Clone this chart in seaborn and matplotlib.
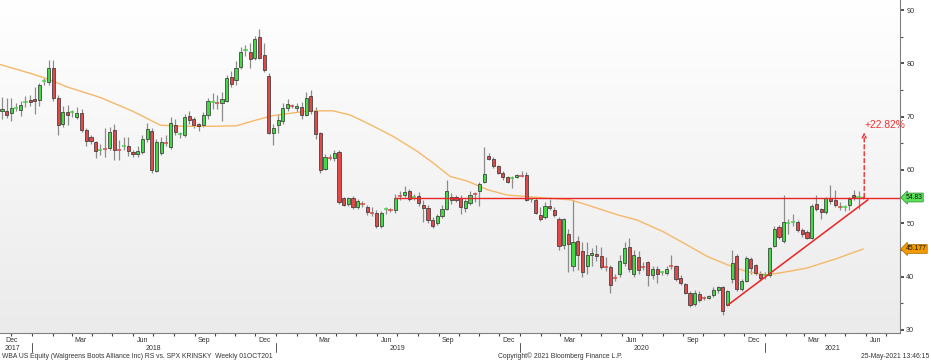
import numpy as np
import pandas as pd
import matplotlib
matplotlib.use("Agg")
import matplotlib.pyplot as plt
import matplotlib.dates as mdates
import matplotlib.transforms as mtransforms
from matplotlib.colors import LinearSegmentedColormap
import seaborn as sns

sns.set_theme(style="white")
plt.rcParams['font.family'] = ['Liberation Sans', 'DejaVu Sans']

# ---------------- data ----------------
first_week = "2017-11-17"   # weekly bars (week ending Friday)

opens = [71.0, 71.0, 70.7, 71.5, 71.3, 72.5, 73.1, 73.4, 73.2, 76.4,
         76.6, 79.1, 73.5, 68.7, 70.9, 70.6, 70.0, 70.7, 67.5, 66.1,
         65.2, 63.6, 64.1, 64.2, 67.5, 64.1, 64.3, 64.5, 63.4, 63.0,
         63.4, 65.8, 67.4, 59.8, 63.2, 65.3, 64.4, 68.5, 66.5, 66.6,
         70.2, 69.6, 68.6, 68.5, 70.3, 72.6, 72.8, 72.5, 73.0, 77.5,
         76.8, 79.4, 82.3, 82.2, 81.0, 85.0, 81.5, 77.7, 66.9, 68.5,
         69.1, 71.6, 72.2, 71.6, 71.9, 70.4, 73.8, 71.0, 66.9, 60.2,
         62.6, 62.3, 63.4, 54.7, 53.6, 54.7, 53.0, 53.7, 53.0, 52.1,
         51.9, 49.5, 52.4, 52.6, 52.4, 55.4, 55.3, 56.1, 54.7, 55.2,
         53.5, 52.8, 50.6, 50.0, 51.3, 52.7, 55.0, 54.9, 54.7, 52.8,
         53.8, 55.6, 56.0, 57.8, 62.7, 62.1, 60.7, 59.4, 58.6, 58.2,
         58.6, 59.1, 59.0, 54.3, 54.4, 51.6, 51.1, 53.3, 52.5, 50.8,
         46.0, 48.0, 41.9, 46.6, 44.7, 41.9, 44.0, 44.3, 43.9, 41.9,
         41.8, 39.8, 40.5, 42.6, 45.5, 40.5, 43.6, 42.0, 42.7, 40.2,
         41.4, 40.7, 40.6, 42.0, 41.9, 39.7, 38.6, 36.9, 34.8, 36.8,
         36.0, 35.9, 36.6, 37.5, 38.0, 34.7, 39.5, 43.9, 37.6, 39.1,
         43.3, 42.1, 40.5, 40.0, 40.2, 45.8, 49.3, 46.6, 50.0, 50.0,
         50.3, 48.8, 48.4, 47.2, 53.6, 52.6, 52.2, 54.8, 54.4, 53.4,
         52.9, 53.4, 55.3, 54.9, 55.0]

highs = [73.7, 73.5, 73.5, 72.5, 73.0, 73.9, 74.0, 75.5, 76.4, 77.2,
         80.7, 80.6, 74.0, 72.0, 72.2, 71.3, 71.8, 71.5, 67.8, 66.5,
         65.5, 64.8, 67.9, 68.1, 68.6, 65.6, 66.2, 66.1, 63.8, 64.5,
         66.6, 68.9, 67.8, 65.8, 66.2, 66.5, 69.9, 69.5, 67.2, 70.5,
         71.0, 70.0, 68.9, 70.9, 73.5, 74.4, 74.0, 74.7, 77.8, 78.5,
         80.4, 83.0, 83.4, 83.8, 85.2, 86.5, 83.9, 78.2, 68.6, 70.5,
         72.6, 73.3, 72.4, 72.6, 72.7, 74.6, 75.1, 71.8, 67.2, 63.0,
         63.0, 63.8, 63.8, 55.0, 55.0, 55.2, 54.6, 54.1, 53.4, 53.1,
         52.5, 52.3, 53.1, 52.9, 55.5, 56.0, 57.0, 56.5, 55.4, 55.8,
         54.3, 53.5, 51.2, 51.8, 53.5, 58.2, 55.6, 55.3, 55.3, 54.5,
         56.0, 55.9, 57.7, 64.4, 63.2, 62.4, 61.0, 59.8, 58.9, 58.8,
         59.3, 59.8, 59.7, 54.9, 54.7, 53.0, 54.0, 54.5, 53.0, 51.1,
         51.0, 49.0, 54.4, 47.6, 46.5, 46.5, 45.3, 46.0, 45.6, 43.7,
         42.1, 40.5, 44.0, 46.5, 47.2, 45.0, 44.8, 42.8, 43.0, 41.9,
         41.9, 41.1, 42.0, 44.0, 42.2, 40.2, 38.8, 37.2, 37.5, 37.3,
         36.3, 36.6, 38.0, 38.2, 38.3, 37.5, 44.9, 44.2, 39.6, 43.9,
         43.6, 42.4, 41.0, 40.9, 45.6, 49.5, 49.7, 55.3, 50.8, 51.8,
         50.6, 49.1, 48.7, 53.6, 55.3, 52.9, 55.0, 57.2, 56.3, 54.0,
         53.5, 54.9, 56.2, 56.0, 55.2]

lows = [69.5, 69.7, 69.1, 71.0, 70.2, 71.9, 72.0, 70.5, 72.0, 76.0,
        76.0, 73.0, 66.5, 68.0, 68.5, 70.0, 69.5, 67.2, 64.5, 64.9,
        62.2, 62.9, 62.5, 63.8, 61.9, 61.9, 63.8, 62.7, 62.4, 62.5,
        63.0, 65.3, 59.4, 59.6, 62.8, 64.5, 64.0, 66.5, 66.0, 66.2,
        68.6, 67.8, 67.4, 68.0, 69.6, 71.5, 71.5, 69.2, 72.7, 75.5,
        75.9, 79.0, 81.3, 79.2, 80.6, 80.9, 78.3, 66.8, 64.7, 67.0,
        68.7, 71.0, 71.7, 70.8, 69.6, 70.1, 70.5, 65.9, 59.4, 59.9,
        61.9, 61.6, 53.6, 53.3, 53.2, 52.6, 52.6, 53.0, 51.6, 51.3,
        49.1, 49.2, 51.7, 52.1, 51.9, 54.3, 55.0, 54.2, 54.4, 53.2,
        50.3, 50.0, 49.1, 49.6, 51.0, 52.4, 53.6, 53.9, 51.8, 52.2,
        53.5, 54.0, 53.2, 57.5, 61.8, 60.4, 59.2, 58.2, 57.5, 56.6,
        58.4, 58.6, 54.1, 54.0, 51.8, 50.5, 50.8, 52.5, 51.2, 44.9,
        45.1, 40.8, 41.0, 41.2, 40.0, 40.5, 42.0, 43.0, 41.5, 41.1,
        36.9, 39.2, 40.0, 42.0, 40.9, 40.0, 40.5, 41.2, 38.2, 39.6,
        38.7, 40.3, 40.3, 41.5, 39.2, 38.4, 36.7, 34.3, 34.4, 35.2,
        35.6, 35.8, 36.2, 37.0, 32.8, 34.4, 38.8, 37.2, 37.3, 38.9,
        40.5, 40.2, 39.2, 39.6, 40.0, 45.5, 47.0, 46.2, 48.0, 49.5,
        48.4, 47.5, 47.0, 47.0, 52.3, 50.8, 51.8, 53.6, 53.0, 52.5,
        52.3, 52.5, 54.3, 52.7, 54.6]

closes = [71.4, 70.3, 71.6, 71.7, 72.1, 72.8, 72.7, 73.0, 76.0, 76.7,
          79.1, 73.6, 68.5, 70.9, 70.3, 70.8, 70.7, 67.5, 65.5, 65.5,
          63.5, 63.8, 63.9, 67.1, 63.8, 63.8, 64.5, 63.5, 63.0, 63.5,
          65.8, 67.7, 60.0, 65.2, 65.2, 65.0, 68.8, 67.2, 66.7, 70.0,
          69.4, 68.5, 68.2, 70.3, 72.9, 72.8, 72.5, 73.3, 77.2, 76.2,
          79.2, 82.2, 82.5, 80.8, 84.6, 81.1, 78.7, 67.0, 67.8, 69.4,
          71.7, 72.4, 72.0, 72.0, 70.4, 73.6, 71.0, 66.7, 59.9, 62.5,
          62.3, 63.1, 53.9, 53.5, 54.7, 53.0, 54.1, 53.6, 52.2, 52.0,
          49.4, 51.9, 52.6, 52.4, 54.7, 55.2, 55.8, 54.5, 55.0, 53.8,
          52.8, 50.6, 49.4, 51.3, 52.7, 56.0, 54.4, 54.4, 53.0, 54.1,
          55.3, 55.4, 57.3, 59.3, 62.1, 60.7, 59.5, 58.6, 57.8, 58.4,
          59.0, 58.9, 54.4, 54.5, 52.0, 50.8, 53.3, 52.9, 51.5, 45.8,
          50.8, 46.1, 46.4, 44.1, 40.8, 44.0, 44.5, 43.9, 41.8, 41.7,
          38.5, 39.7, 43.0, 45.3, 41.4, 44.1, 41.3, 41.8, 40.2, 41.4,
          40.5, 40.9, 41.5, 41.9, 39.5, 38.8, 37.0, 34.7, 37.0, 35.5,
          35.9, 36.4, 37.5, 38.0, 33.5, 37.2, 42.6, 37.6, 39.1, 43.5,
          41.6, 40.6, 39.7, 40.3, 45.3, 48.9, 47.5, 50.3, 50.1, 50.3,
          48.8, 48.0, 47.2, 53.3, 52.6, 52.1, 54.7, 54.2, 53.5, 53.1,
          53.0, 54.5, 54.9, 54.95, 54.83]

# moving average line
ma_dates = ["2017-11-14", "2018-01-02", "2018-01-28", "2018-02-22", "2018-04-13",
            "2018-06-01", "2018-07-12", "2018-08-15", "2018-09-29", "2018-11-03",
            "2018-12-03", "2018-12-27", "2019-02-01", "2019-02-25", "2019-03-27",
            "2019-04-22", "2019-05-17", "2019-06-25", "2019-07-31", "2019-08-24",
            "2019-09-18", "2019-10-14", "2019-11-13", "2019-12-12", "2020-01-21",
            "2020-03-16", "2020-04-10", "2020-05-25", "2020-06-24", "2020-08-02",
            "2020-09-07", "2020-10-07", "2020-11-06", "2020-12-05", "2021-01-04",
            "2021-02-03", "2021-03-05", "2021-04-19", "2021-05-28"]
ma_values = [79.8, 78.0, 76.9, 75.6, 73.6,
             71.0, 68.4, 68.2, 68.2, 68.3,
             69.4, 70.2, 70.8, 71.1, 71.1,
             70.3, 68.8, 66.3, 63.5, 61.3,
             58.8, 57.9, 56.3, 55.3, 54.9,
             54.4, 53.45, 51.6, 50.6, 48.4,
             45.9, 43.75, 42.2, 40.9, 40.3,
             40.9, 41.6, 43.4, 45.177]

last_price = 54.83
resistance = 54.83
resistance_start = "2019-06-28"
trend_dates = ["2020-11-06", "2021-06-04"]
trend_values = [34.6, 54.4]
target_pct = 22.82
ma_last = 45.177

month_ticks = [("2017-12-02", "Dec"), ("2018-03-15", "Mar"), ("2018-06-15", "Jun"),
               ("2018-09-15", "Sep"), ("2018-12-15", "Dec"), ("2019-03-15", "Mar"),
               ("2019-06-15", "Jun"), ("2019-09-15", "Sep"), ("2019-12-15", "Dec"),
               ("2020-03-15", "Mar"), ("2020-06-15", "Jun"), ("2020-09-15", "Sep"),
               ("2020-12-15", "Dec"), ("2021-03-15", "Mar"), ("2021-06-15", "Jun")]
year_labels = [("2017-12-02", "2017"), ("2018-07-01", "2018"), ("2019-07-01", "2019"),
               ("2020-07-01", "2020"), ("2021-04-12", "2021")]
year_breaks = ["2018-01-01", "2019-01-01", "2020-01-01", "2021-01-01"]

# ---------------- figure ----------------
W, H = 931, 362
fig = plt.figure(figsize=(W / 100, H / 100), dpi=100)
fig.patch.set_facecolor("white")
ax = fig.add_axes([0, 29 / H, 900 / W, 333 / H])

# background gradient
cmap = LinearSegmentedColormap.from_list("bg", ["#ebebeb", "#ffffff"])
grad = np.linspace(0, 1, 256).reshape(-1, 1)
ax.imshow(grad, extent=[0, 1, 0, 1], transform=ax.transAxes, aspect="auto",
          cmap=cmap, origin="lower", zorder=0)

dates = pd.date_range(first_week, periods=len(closes), freq="7D")
x = mdates.date2num(dates)
o = np.array(opens); h = np.array(highs); l = np.array(lows); c = np.array(closes)

GREEN = "#44d844"
RED = "#e24848"
EDGE = "#3a3a3a"

# wicks
ax.vlines(x, l, h, color="#8c8c8c", lw=0.9, zorder=2)

up = c >= o
body = np.abs(c - o)
doji = body < 0.35
bw = 4.7
for mask, col in [(up & ~doji, GREEN), (~up & ~doji, RED)]:
    ax.bar(x[mask], body[mask], bottom=np.minimum(o, c)[mask], width=bw,
           color=col, edgecolor=EDGE, linewidth=0.55, zorder=3)
for mask, col in [(up & doji, GREEN), (~up & doji, RED)]:
    ax.hlines(c[mask], x[mask] - 3.2, x[mask] + 3.2, color=col, lw=1.1, zorder=3)

# moving average via seaborn
ma_df = pd.DataFrame({"date": mdates.date2num(pd.to_datetime(ma_dates)), "ma": ma_values})
sns.lineplot(data=ma_df, x="date", y="ma", ax=ax, color="#f6b868", lw=1.0,
             estimator=None, sort=False, zorder=2.5)

# resistance and trend lines
xr0 = mdates.date2num(pd.Timestamp(resistance_start))
ax.plot([xr0, mdates.date2num(pd.Timestamp("2021-07-22"))], [resistance, resistance],
        color="#e8262a", lw=1.0, zorder=4)
ax.plot(mdates.date2num(pd.to_datetime(trend_dates)), trend_values,
        color="#ee2222", lw=1.1, zorder=4)

# target arrow
xa = x[-1] + 1.5
target = last_price * (1 + target_pct / 100)
ax.annotate("", xy=(xa, target - 0.3), xytext=(xa, last_price),
            arrowprops=dict(arrowstyle="->", color="#f03030", lw=1.0,
                            linestyle=(0, (3, 2)), shrinkA=0, shrinkB=0,
                            mutation_scale=7), zorder=5)
ax.text(xa + 0.5, target + 1.1, f"+{target_pct:.2f}%", color="#f03030", fontsize=7.4,
        ha="left", va="center", zorder=5)

# limits
ax.set_xlim(mdates.date2num(pd.Timestamp("2017-11-14")), mdates.date2num(pd.Timestamp("2021-07-22")))
ax.set_ylim(29.4, 91.9)

# y axis on the right
ax.yaxis.tick_right()
ax.set_yticks(np.arange(30, 91, 10))
ax.set_yticks(np.arange(35, 90, 10), minor=True)
ax.set_yticklabels([str(v) for v in range(30, 91, 10)])
ax.tick_params(axis="y", which="major", direction="out", length=3, width=1.2,
               colors="#333333", labelsize=5.2, pad=1.5, right=True, left=False)
ax.tick_params(axis="y", which="minor", direction="out", length=2, width=0.8,
               colors="#555555", right=True, left=False)

# x axis: month ticks
ax.set_xticks(mdates.date2num(pd.to_datetime([d for d, _ in month_ticks])))
ax.set_xticklabels([t for _, t in month_ticks])
ax.set_xticks(mdates.date2num(pd.date_range("2017-12-01", "2021-07-01", freq="MS")), minor=True)
ax.tick_params(axis="x", which="major", length=0, labelsize=5.0, pad=3, colors="#333333")
ax.tick_params(axis="x", which="minor", direction="out", length=2, width=0.8,
               colors="#444444", bottom=True)
ax.set_xlabel(""); ax.set_ylabel("")

for side in ["top", "left"]:
    ax.spines[side].set_visible(False)
for side in ["right", "bottom"]:
    ax.spines[side].set_visible(True)
    ax.spines[side].set_color("#808080")
    ax.spines[side].set_linewidth(0.8)
ax.grid(False)

# year row
trans_x_fig = mtransforms.blended_transform_factory(ax.transData, fig.transFigure)
for d, t in year_labels:
    ax.text(mdates.date2num(pd.Timestamp(d)), (H - 348.5) / H, t, transform=trans_x_fig,
            fontsize=5.0, ha="center", va="center", color="#333333", clip_on=False)
for d in year_breaks:
    xb = mdates.date2num(pd.Timestamp(d))
    ax.plot([xb, xb], [(H - 343) / H, (H - 352) / H], transform=trans_x_fig,
            color="#555555", lw=0.7, clip_on=False)

# value tags on the right
trans_ax_data = mtransforms.blended_transform_factory(ax.transAxes, ax.transData)
ax.text(1.006, last_price, f"{last_price:.2f}", transform=trans_ax_data, fontsize=4.9,
        ha="left", va="center", color="#111111", clip_on=False, zorder=6,
        bbox=dict(boxstyle="larrow,pad=0.14", fc="#5be05b", ec="#2c8a2c", lw=0.5))
ax.text(1.006, ma_last, f"{ma_last:.3f}", transform=trans_ax_data, fontsize=4.9,
        ha="left", va="center", color="#111111", clip_on=False, zorder=6,
        bbox=dict(boxstyle="larrow,pad=0.14", fc="#f29a00", ec="#a86a00", lw=0.5))

# footer texts
fig.text(2 / W, (H - 356) / H, "WBA US Equity (Walgreens Boots Alliance Inc) RS vs. SPX KRINSKY  Weekly 01OCT201",
         fontsize=4.9, ha="left", va="center", color="#333333")
fig.text(498 / W, (H - 356) / H, "Copyright\u00a9 2021 Bloomberg Finance L.P.",
         fontsize=4.9, ha="left", va="center", color="#333333")
fig.text(929 / W, (H - 356) / H, "25-May-2021 13:46:15",
         fontsize=4.9, ha="right", va="center", color="#333333")

fig.savefig("out.png", dpi=100)
